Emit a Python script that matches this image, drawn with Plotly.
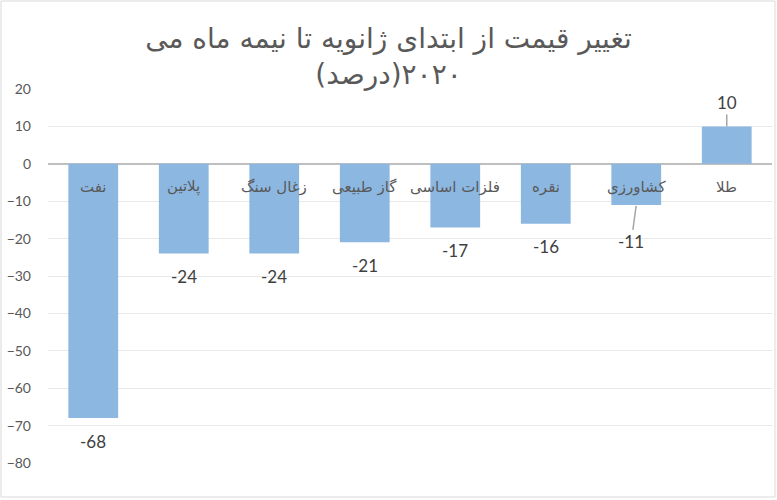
import plotly.graph_objects as go

categories = ['نفت', 'پلاتین', 'زغال سنگ', 'گاز طبیعی', 'فلزات اساسی', 'نقره', 'کشاورزی', 'طلا']
values = [-68, -24, -24, -21, -17, -16, -11, 10]
y_ticks = [20, 10, 0, -10, -20, -30, -40, -50, -60, -70, -80]
title_line1 = 'تغییر قیمت از ابتدای ژانویه تا نیمه ماه می'
title_line2 = '\u202b۲۰۲۰(درصد)\u202c'

bar_color = '#8cb7e1'
grey_txt = '#595959'
fa_font = 'DejaVu Sans'

fig = go.Figure()
fig.add_trace(go.Bar(x=categories, y=values, marker=dict(color=bar_color, line=dict(width=0)),
                     width=0.55, hoverinfo='skip'))

# category names sit just under the zero line
for c in categories:
    fig.add_annotation(x=c, y=0, text=c, showarrow=False, yanchor='middle', yshift=-23,
                       font=dict(family=fa_font, size=15, color=grey_txt))

# value labels
for c, v in zip(categories, values):
    if v > 0:
        fig.add_annotation(x=c, y=v, text=str(v), showarrow=True, arrowhead=0, arrowwidth=1.5,
                           arrowcolor='#a6a6a6', ax=0, ay=-24, standoff=0,
                           font=dict(family='Lato', size=17, color='#404040'))
    elif v == -11:
        fig.add_annotation(x=c, y=v, text=str(v), showarrow=True, arrowhead=0, arrowwidth=1.5,
                           arrowcolor='#a6a6a6', ax=-5, ay=37, standoff=1,
                           font=dict(family='Lato', size=17, color='#404040'))
    else:
        fig.add_annotation(x=c, y=v, text=str(v), showarrow=False, yanchor='middle', yshift=-23,
                           font=dict(family='Lato', size=17, color='#404040'))

# chart border
fig.add_shape(type='rect', xref='paper', yref='paper',
              x0=(1 - 48) / 724, x1=(775 - 48) / 724, y0=(463 - 497) / 374, y1=(463 - 1) / 374,
              line=dict(color='#d9d9d9', width=1), layer='below')

fig.update_layout(
    width=777, height=500,
    margin=dict(l=48, r=5, t=89, b=37),
    paper_bgcolor='white', plot_bgcolor='white',
    showlegend=False,
    title=dict(text=title_line1 + '<br>' + title_line2, x=0.5, xanchor='center', y=0.905, yanchor='middle',
               font=dict(family=fa_font, size=28, color=grey_txt)),
    xaxis=dict(showticklabels=False, showgrid=False, zeroline=False, showline=False, ticks=''),
    yaxis=dict(range=[-80, 20], tickvals=y_ticks, showgrid=True, gridcolor='#e9e9e9', gridwidth=1,
               zeroline=True, zerolinecolor='#bfbfbf', zerolinewidth=2,
               tickfont=dict(family='Lato', size=14, color=grey_txt), ticklabelstandoff=16,
               showline=False),
)

fig.write_html('out.html', config={'displayModeBar': False},
               post_script="document.body.style.margin='0';")
